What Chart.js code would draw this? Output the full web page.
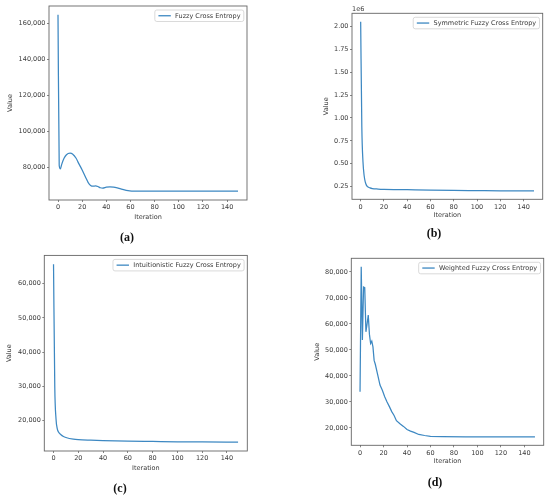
<!DOCTYPE html>
<html><head><meta charset="utf-8">
<script src="https://cdn.jsdelivr.net/npm/chart.js@4/dist/chart.umd.min.js"></script>
<style>
html,body{margin:0;padding:0;background:#fff;width:550px;height:499px;overflow:hidden}
.panel{position:absolute;width:275px;height:250px}
.cap{position:absolute;font:bold 12px "Liberation Serif","DejaVu Serif",serif;color:#111;transform:translate(-50%,-50%);white-space:nowrap}
</style></head><body>
<div class="panel" style="left:0;top:0"><canvas id="ca" width="275" height="250"></canvas></div>
<div class="panel" style="left:275px;top:0"><canvas id="cb" width="275" height="250"></canvas></div>
<div class="panel" style="left:0;top:250px"><canvas id="cc" width="275" height="250"></canvas></div>
<div class="panel" style="left:275px;top:250px"><canvas id="cd" width="275" height="250"></canvas></div>
<div class="cap" style="left:127px;top:237px">(a)</div>
<div class="cap" style="left:434px;top:233px">(b)</div>
<div class="cap" style="left:120px;top:488px">(c)</div>
<div class="cap" style="left:435px;top:482px">(d)</div>
<script>
// ---- data ----
const labelA = 'Fuzzy Cross Entropy';
const iterA  = [0,1,2,3,5,7,10,12,15,17,20,23,25,27,29,31,33,35,37,40,43,46,49,52,55,58,61,65,70,80,90,100,120,149];
const valueA = [164800,81000,79100,81500,85000,87000,87800,87400,85000,82300,78500,74200,71500,69900,69500,69600,69300,68600,68400,68900,69100,68900,68500,68000,67400,67000,66800,66700,66800,66800,66700,66700,66700,66700];

const labelB = 'Symmetric Fuzzy Cross Entropy';
const iterB  = [0,1,2,3,4,5,6,8,10,15,20,30,40,60,80,100,120,149];
const valueB = [2050000,900000,520000,370000,300000,265000,250000,237000,230000,225000,222000,219000,217000,213000,210000,208000,206000,205000];

const labelC = 'Intuitionistic Fuzzy Cross Entropy';
const iterC  = [0,1,2,3,4,6,8,10,16,20,30,40,60,80,100,120,149];
const valueC = [65700,30000,20500,17600,16600,15800,15300,15000,14500,14350,14200,14100,13950,13850,13750,13700,13650];

const labelD = 'Weighted Fuzzy Cross Entropy';
const iterD  = [0,1,2,3,4,5,6,7,8,9,10,11,12,13,15,17,19,21,23,25,27,29,31,34,37,40,43,46,50,55,60,70,90,120,149];
const valueD = [33900,82000,53800,74200,74000,57000,60000,63400,56000,52500,53400,51200,46000,44500,40500,36500,34500,32000,30000,28200,26300,24800,22800,21600,20600,19400,18800,18300,17500,17100,16800,16700,16600,16600,16600];

const xTicks = [0,20,40,60,80,100,120,140];
const xTickLabels = ['0','20','40','60','80','100','120','140'];
const yTicksA = [80000,100000,120000,140000,160000];
const yTickLabelsA = ['80,000','100,000','120,000','140,000','160,000'];
const yTicksB = [250000,500000,750000,1000000,1250000,1500000,1750000,2000000];
const yTickLabelsB = ['0.25','0.50','0.75','1.00','1.25','1.50','1.75','2.00'];
const yTicksC = [20000,30000,40000,50000,60000];
const yTickLabelsC = ['20,000','30,000','40,000','50,000','60,000'];
const yTicksD = [20000,30000,40000,50000,60000,70000,80000];
const yTickLabelsD = ['20,000','30,000','40,000','50,000','60,000','70,000','80,000'];

// ---- styling ----
const FONT = {family:'DejaVu Sans', size:6.5};
const TXT = '#3a3a3a';
const LINE = '#3d88c2';

const framePlugin = {
  id:'frame',
  afterDatasetsDraw(chart){
    const {ctx, chartArea:a} = chart;
    ctx.save();
    ctx.strokeStyle = '#666'; ctx.lineWidth = 0.9;
    ctx.strokeRect(a.left, a.top, a.right-a.left, a.bottom-a.top);
    ctx.restore();
  }
};
const legendPlugin = {
  id:'boxLegend',
  afterDraw(chart){
    const {ctx, chartArea:a} = chart;
    const ds = chart.data.datasets[0];
    ctx.save();
    ctx.font = FONT.size + 'px "DejaVu Sans"';
    const tw = ctx.measureText(ds.label).width;
    const w = 3.6 + 12.4 + 4.3 + tw + 3.3, h = 11.5;
    const x0 = a.right - 3.2 - w, y0 = a.top + 4;
    ctx.beginPath();
    ctx.roundRect(x0, y0, w, h, 2);
    ctx.fillStyle = 'rgba(255,255,255,0.85)'; ctx.fill();
    ctx.strokeStyle = '#d0d0d0'; ctx.lineWidth = 0.8; ctx.stroke();
    ctx.beginPath();
    ctx.moveTo(x0+3.6, y0+h/2); ctx.lineTo(x0+16, y0+h/2);
    ctx.strokeStyle = ds.borderColor; ctx.lineWidth = 1.3; ctx.stroke();
    ctx.fillStyle = TXT; ctx.textBaseline = 'middle'; ctx.textAlign = 'left';
    ctx.fillText(ds.label, x0+20.3, y0+h/2+0.3);
    const off = chart.options.plugins.boxLegend && chart.options.plugins.boxLegend.offsetText;
    if (off){
      ctx.textBaseline = 'bottom';
      ctx.fillText(off, a.left, a.top - 1);
    }
    ctx.restore();
  }
};

function makeChart(id, P){
  const padL = P.valueX - 3.9;
  const padB = 250 - 3.9 - P.iterY;
  const xH = 250 - padB - P.area.b;
  const yW = P.area.l - padL;
  const xmin = Math.min(...P.x), xmax = Math.max(...P.x), xr = xmax - xmin;
  const ymin = Math.min(...P.y), ymax = Math.max(...P.y), yr = ymax - ymin;
  new Chart(document.getElementById(id), {
    type:'line',
    data:{datasets:[{
      label:P.label,
      data:P.x.map((x,i)=>({x:x, y:P.y[i]})),
      borderColor:LINE, borderWidth:1.25, pointRadius:0, fill:false,
      cubicInterpolationMode: P.smooth ? 'monotone' : 'default',
      tension: 0
    }]},
    options:{
      responsive:false, animation:false, events:[],
      layout:{padding:{left:padL, right:275-P.area.r, top:P.area.t, bottom:padB}},
      plugins:{legend:{display:false}, tooltip:{enabled:false}, boxLegend:{offsetText:P.offsetText||''}},
      scales:{
        x:{
          type:'linear', bounds:'data',
          min:xmin-0.05*xr, max:xmax+0.05*xr,
          afterBuildTicks:s=>{s.ticks = xTicks.map(v=>({value:v}));},
          afterFit:s=>{s.height = xH;},
          grid:{drawOnChartArea:false, drawTicks:true, tickLength:2, color:'#666', lineWidth:0.8},
          border:{display:false},
          ticks:{font:FONT, color:TXT, padding:1.8, maxRotation:0, autoSkip:false,
                 callback:(v,i)=>xTickLabels[i]},
          title:{display:true, text:'Iteration', font:FONT, color:TXT, padding:0}
        },
        y:{
          type:'linear', bounds:'data',
          min:ymin-0.05*yr, max:ymax+0.05*yr,
          afterBuildTicks:s=>{s.ticks = P.yt.map(v=>({value:v}));},
          afterFit:s=>{s.width = yW;},
          grid:{drawOnChartArea:false, drawTicks:true, tickLength:2, color:'#666', lineWidth:0.8},
          border:{display:false},
          ticks:{font:FONT, color:TXT, padding:1.5, autoSkip:false,
                 callback:(v,i)=>P.ytl[i]},
          title:{display:true, text:'Value', font:FONT, color:TXT, padding:0}
        }
      }
    },
    plugins:[framePlugin, legendPlugin]
  });
}

makeChart('ca',{label:labelA,x:iterA,y:valueA,yt:yTicksA,ytl:yTickLabelsA,smooth:true,
  area:{l:49,r:247,t:6,b:200},valueX:10,iterY:217.3});
makeChart('cb',{label:labelB,x:iterB,y:valueB,yt:yTicksB,ytl:yTickLabelsB,smooth:true,offsetText:'1e6',
  area:{l:77,r:267.7,t:13.3,b:199.3},valueX:51,iterY:215.7});
makeChart('cc',{label:labelC,x:iterC,y:valueC,yt:yTicksC,ytl:yTickLabelsC,smooth:true,
  area:{l:44.3,r:247.3,t:2.7,b:201},valueX:9,iterY:218.7});
makeChart('cd',{label:labelD,x:iterD,y:valueD,yt:yTicksD,ytl:yTickLabelsD,smooth:false,
  area:{l:76.3,r:268.7,t:8.3,b:195.3},valueX:42.7,iterY:211.7});
</script>
</body></html>
